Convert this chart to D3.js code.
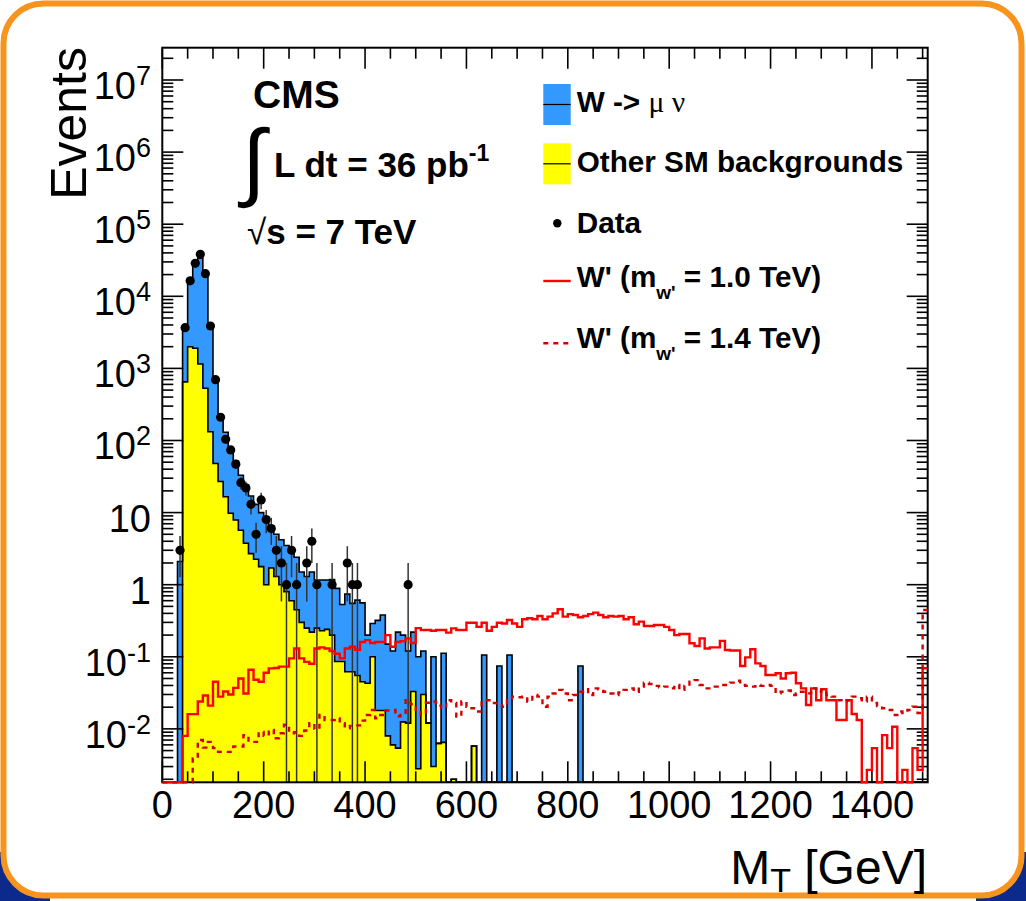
<!DOCTYPE html>
<html>
<head>
<meta charset="utf-8">
<script src="https://cdn.jsdelivr.net/npm/d3@7"></script>
<style>
  body { margin: 0; background: #fff; }
  svg { display: block; }
  text { font-family: "Liberation Sans", Arial, Helvetica, sans-serif; fill: #000; }
</style>
</head>
<body>
<svg id="chart" width="1026" height="901"></svg>
<script>
// ---- M_T spectrum, 10 GeV bins from 0 to 1510 GeV (bin i = [10i, 10i+10]) ----
const binWidth = 10;
const xMaxGeV = 1510;

// stacked SM total (W -> mu nu on top of other backgrounds), events per bin
const smTotal = [
  0, 0, 0, 2.1, 3600, 16000, 31000, 34000, 21000, 4000,
  700, 212, 130, 80, 52, 33, 24, 17, 13, 10,
  8, 6.5, 5, 4.2, 3.5, 3.0, 2.4, 1.5, 1.3, 1.5,
  1.16, 1.16, 1.16, 1.18, 0.89, 0.53, 0.74, 0.55, 0.61, 0.56,
  0.2, 0.29, 0.32, 0.38, 0.15, 0.12, 0.22, 0.2, 0.12, 0.22,
  0.1, 0.12, 0.012, 0.1, 0.0063, 0.112, 0, 0.002, 0, 0,
  0, 0.0058, 0, 0.106, 0, 0, 0.0745, 0, 0.106, 0,
  0, 0, 0, 0, 0, 0, 0, 0, 0, 0,
  0, 0, 0.0745, 0, 0, 0, 0, 0, 0, 0,
  0, 0, 0, 0, 0, 0, 0, 0, 0, 0,
  0, 0, 0, 0, 0, 0, 0, 0, 0, 0,
  0, 0, 0, 0, 0, 0, 0, 0, 0, 0,
  0, 0, 0, 0, 0, 0, 0, 0, 0, 0,
  0, 0, 0, 0, 0, 0, 0, 0, 0, 0,
  0, 0, 0, 0, 0, 0, 0, 0, 0, 0,
  0
];

// other SM backgrounds alone
const otherSM = [
  0, 0, 0, 0, 650, 2000, 1900, 1150, 530, 132,
  48, 27, 16.6, 9.8, 7.9, 5.7, 3.75, 2.7, 2.25, 1.78,
  1.0, 1.7, 1.3, 1.0, 0.8, 0.6, 0.45, 0.3, 0.25, 0.22,
  0.25, 0.23, 0.24, 0.2, 0.086, 0.086, 0.062, 0.062, 0.055, 0.045,
  0.043, 0.1, 0.018, 0.018, 0.008, 0.006, 0.0054, 0.0125, 0.012, 0.033,
  0.0028, 0.03, 0.012, 0.003, 0.0063, 0.0065, 0, 0.002, 0, 0,
  0, 0.0058, 0, 0, 0, 0, 0, 0, 0, 0,
  0, 0, 0, 0, 0, 0, 0, 0, 0, 0,
  0, 0, 0, 0, 0, 0, 0, 0, 0, 0,
  0, 0, 0, 0, 0, 0, 0, 0, 0, 0,
  0, 0, 0, 0, 0, 0, 0, 0, 0, 0,
  0, 0, 0, 0, 0, 0, 0, 0, 0, 0,
  0, 0, 0, 0, 0, 0, 0, 0, 0, 0,
  0, 0, 0, 0, 0, 0, 0, 0, 0, 0,
  0, 0, 0, 0, 0, 0, 0, 0, 0, 0,
  0
];

// observed events: bin index and count
const dataBins = [3, 4, 5, 6, 7, 8, 9, 10, 11, 12, 13, 14, 15, 16, 17, 18, 19, 20, 21, 22, 23, 24, 25, 26, 28, 29, 30, 33, 36, 37, 38, 48];
const dataCounts = [3, 3670, 16400, 28700, 38200, 20600, 3870, 697, 210, 104, 74, 47, 26, 22, 13, 5, 15, 8, 6, 3, 2, 1, 3, 1, 2, 4, 1, 1, 2, 1, 1, 1];

// W' signal, m = 1.0 TeV
const wprime10 = [
  0, 0, 0, 0, 0.008, 0.016, 0.016, 0.024, 0.029, 0.021,
  0.045, 0.028, 0.033, 0.03, 0.037, 0.05, 0.031, 0.066, 0.048, 0.045,
  0.06, 0.069, 0.07, 0.073, 0.073, 0.095, 0.13, 0.095, 0.085, 0.08,
  0.13, 0.135, 0.13, 0.12, 0.11, 0.095, 0.13, 0.138, 0.125, 0.16,
  0.17, 0.155, 0.16, 0.16, 0.2, 0.138, 0.16, 0.165, 0.18, 0.155,
  0.25, 0.235, 0.235, 0.23, 0.235, 0.235, 0.216, 0.248, 0.235, 0.235,
  0.297, 0.297, 0.26, 0.297, 0.23, 0.26, 0.297, 0.29, 0.324, 0.29,
  0.26, 0.331, 0.342, 0.331, 0.368, 0.331, 0.36, 0.40, 0.456, 0.36,
  0.39, 0.38, 0.353, 0.368, 0.39, 0.41, 0.38, 0.353, 0.368, 0.36,
  0.368, 0.331, 0.353, 0.282, 0.307, 0.267, 0.267, 0.276, 0.276, 0.26,
  0.235, 0.2, 0.207, 0.207, 0.154, 0.141, 0.18, 0.13, 0.135, 0.135,
  0.166, 0.124, 0.122, 0.122, 0.0745, 0.098, 0.127, 0.081, 0.0745, 0.056,
  0.056, 0.059, 0.05, 0.059, 0.06, 0.043, 0.0365, 0.0214, 0.0365, 0.025,
  0.0354, 0.025, 0.025, 0.0133, 0.0133, 0.025, 0.0161, 0.0133, 0, 0.0027,
  0.0054, 0, 0.0082, 0.0054, 0.0107, 0, 0.0027, 0, 0.0054, 0.0027,
  0.069
];

// W' signal, m = 1.4 TeV
const wprime14 = [
  0, 0, 0, 0, 0, 0, 0.0039, 0.007, 0.0055, 0.0066,
  0.0054, 0.0048, 0.0048, 0.0048, 0.0057, 0.0057, 0.0082, 0.0066, 0.0066, 0.0091,
  0.008, 0.0097, 0.0074, 0.0087, 0.0114, 0.0087, 0.009, 0.008, 0.0095, 0.012,
  0.01, 0.0156, 0.0133, 0.0133, 0.014, 0.012, 0.0102, 0.011, 0.0112, 0.013,
  0.0156, 0.0183, 0.014, 0.0156, 0.018, 0.0183, 0.015, 0.0156, 0.025, 0.022,
  0.017, 0.0156, 0.023, 0.024, 0.021, 0.0193, 0.025, 0.0228, 0.0148, 0.024,
  0.0203, 0.0193, 0.0174, 0.025, 0.025, 0.0228, 0.0226, 0.0203, 0.025, 0.028,
  0.0275, 0.028, 0.024, 0.0295, 0.028, 0.0203, 0.028, 0.031, 0.0347, 0.031,
  0.025, 0.0295, 0.0328, 0.0354, 0.0295, 0.0365, 0.0354, 0.0328, 0.031, 0.0295,
  0.032, 0.0347, 0.0365, 0.0328, 0.0385, 0.0438, 0.042, 0.0395, 0.0377, 0.0385,
  0.0365, 0.0406, 0.0347, 0.0395, 0.045, 0.0475, 0.0406, 0.0365, 0.0365, 0.0385,
  0.0406, 0.0406, 0.0438, 0.0465, 0.0406, 0.0395, 0.0385, 0.0406, 0.0395, 0.0406,
  0.0395, 0.0311, 0.0328, 0.034, 0.0295, 0.0311, 0.0328, 0.0311, 0.0365, 0.0328,
  0.0347, 0.0295, 0.028, 0.025, 0.024, 0.025, 0.028, 0.0266, 0.024, 0.028,
  0.0228, 0.0208, 0.0193, 0.0183, 0.0156, 0.0174, 0.0166, 0.0183, 0.0203, 0.0166,
  0.445
];

const xTickValues = [0, 200, 400, 600, 800, 1000, 1200, 1400];
const yDecades = [-2, -1, 0, 1, 2, 3, 4, 5, 6, 7];

// ---- layout ----
const svg = d3.select("#chart");
const frame = { left: 162.3, right: 927.7, top: 47.7, bottom: 782.3 };

const x = d3.scaleLinear().domain([0, xMaxGeV]).range([frame.left, frame.right]);
const y = d3.scaleLog()
  .domain([Math.pow(10, -2.741), Math.pow(10, 7.448)])
  .range([frame.bottom, frame.top]);
const yv = v => (v > y.domain()[0] ? y(v) : frame.bottom);

// slide background with rounded orange border
svg.append("rect").attr("x", 0).attr("y", 0).attr("width", 1026).attr("height", 901).attr("fill", "#fff");
svg.append("rect").attr("x", 0).attr("y", 852).attr("width", 50).attr("height", 49).attr("fill", "#0c2a8c");
svg.append("rect").attr("x", 976).attr("y", 852).attr("width", 50).attr("height", 49).attr("fill", "#0c2a8c");
svg.append("rect").attr("x", 3.5).attr("y", 3.5).attr("width", 1018).attr("height", 892)
  .attr("rx", 40).attr("ry", 40)
  .attr("fill", "#fff").attr("stroke", "#f7941d").attr("stroke-width", 6);

const defs = svg.append("defs");
defs.append("clipPath").attr("id", "plotclip")
  .append("rect").attr("x", frame.left).attr("y", frame.top)
  .attr("width", frame.right - frame.left).attr("height", frame.bottom - frame.top);
// signal curves may sit on the lower frame line, so their clip reaches a bit below it
defs.append("clipPath").attr("id", "sigclip")
  .append("rect").attr("x", frame.left).attr("y", frame.top)
  .attr("width", frame.right - frame.left).attr("height", frame.bottom - frame.top + 2);

const plot = svg.append("g").attr("clip-path", "url(#plotclip)");

const edges = vals => vals.map((v, i) => [i * binWidth, v]).concat([[xMaxGeV, vals[vals.length - 1]]]);

const histArea = d3.area()
  .x(d => x(d[0])).y0(frame.bottom).y1(d => yv(d[1]))
  .curve(d3.curveStepAfter);
const histLine = d3.line()
  .x(d => x(d[0])).y(d => yv(d[1]))
  .curve(d3.curveStepAfter);
const outlinePts = vals => [[0, 0]].concat(edges(vals));

// stacked backgrounds
plot.append("path").attr("d", histArea(edges(smTotal))).attr("fill", "#3399ff");
plot.append("path").attr("d", histArea(edges(otherSM))).attr("fill", "#ffff00");
plot.append("path").attr("d", histLine(outlinePts(smTotal)))
  .attr("fill", "none").attr("stroke", "#000").attr("stroke-width", 1.6);
plot.append("path").attr("d", histLine(outlinePts(otherSM)))
  .attr("fill", "none").attr("stroke", "#000").attr("stroke-width", 1.6);

// data with statistical error bars
const dataPts = dataBins.map((b, i) => ({ xc: b * binWidth + binWidth / 2, n: dataCounts[i] }));
plot.selectAll("line.err").data(dataPts).join("line").attr("class", "err")
  .attr("x1", d => x(d.xc)).attr("x2", d => x(d.xc))
  .attr("y1", d => yv(d.n + Math.sqrt(d.n)))
  .attr("y2", d => yv(d.n - Math.sqrt(d.n)))
  .attr("stroke", "#333").attr("stroke-width", 1.5);

// ---- frame and ticks ----
const axes = svg.append("g").attr("stroke", "#000").attr("stroke-width", 1.6);
const xMinor = d3.range(0, 1501, 50);
axes.selectAll("line.xb").data(xMinor).join("line")
  .attr("x1", d => x(d)).attr("x2", d => x(d))
  .attr("y1", frame.bottom).attr("y2", d => frame.bottom - (d % 200 === 0 ? 21 : 11));
axes.selectAll("line.xt").data(xMinor).join("line")
  .attr("x1", d => x(d)).attr("x2", d => x(d))
  .attr("y1", frame.top).attr("y2", d => frame.top + (d % 200 === 0 ? 21 : 11));

const yTicks = [];
for (let k = -3; k <= 7; k++) {
  for (let m = 1; m <= 9; m++) {
    const v = m * Math.pow(10, k);
    if (v >= y.domain()[0] && v <= y.domain()[1]) yTicks.push({ v, major: m === 1 });
  }
}
axes.selectAll("line.yl").data(yTicks).join("line")
  .attr("x1", frame.left).attr("x2", d => frame.left + (d.major ? 21 : 11))
  .attr("y1", d => y(d.v)).attr("y2", d => y(d.v));
axes.selectAll("line.yr").data(yTicks).join("line")
  .attr("x1", frame.right).attr("x2", d => frame.right - (d.major ? 21 : 11))
  .attr("y1", d => y(d.v)).attr("y2", d => y(d.v));

svg.append("rect").attr("x", frame.left).attr("y", frame.top)
  .attr("width", frame.right - frame.left).attr("height", frame.bottom - frame.top)
  .attr("fill", "none").attr("stroke", "#000").attr("stroke-width", 2);

// W' signals, drawn over the frame
const sig = svg.append("g").attr("clip-path", "url(#sigclip)");
sig.append("path").attr("d", histLine(edges(wprime10)))
  .attr("fill", "none").attr("stroke", "#ff0000").attr("stroke-width", 2.4);
sig.append("path").attr("d", histLine(edges(wprime14)))
  .attr("fill", "none").attr("stroke", "#d40000").attr("stroke-width", 2.4)
  .attr("stroke-dasharray", "5,5");

// data markers on top
svg.append("g").attr("clip-path", "url(#plotclip)")
  .selectAll("circle.pt").data(dataPts).join("circle").attr("class", "pt")
  .attr("cx", d => x(d.xc)).attr("cy", d => y(d.n)).attr("r", 4.6).attr("fill", "#000");

// tick labels
svg.selectAll("text.xl").data(xTickValues).join("text").attr("class", "xl")
  .attr("x", d => x(d)).attr("y", 818).attr("text-anchor", "middle")
  .attr("font-size", 38).text(d => d);

const yl = svg.selectAll("text.yl").data(yDecades).join("text").attr("class", "yl")
  .attr("x", 151).attr("y", d => y(Math.pow(10, d)) + 19)
  .attr("text-anchor", "end").attr("font-size", 38);
yl.each(function (d) {
  const t = d3.select(this);
  if (d === 0) { t.text("1"); return; }
  if (d === 1) { t.text("10"); return; }
  t.append("tspan").text("10");
  t.append("tspan").attr("dy", -14).attr("font-size", 27).text(d);
});

// axis titles
svg.append("text").attr("transform", "translate(86,47) rotate(-90)")
  .attr("text-anchor", "end").attr("font-size", 50).text("Events");
const xt = svg.append("text").attr("x", 927).attr("y", 884)
  .attr("text-anchor", "end").attr("font-size", 48);
xt.append("tspan").text("M");
xt.append("tspan").attr("dy", 8).attr("font-size", 34).text("T");
xt.append("tspan").attr("dy", -8).text(" [GeV]");

// ---- annotations ----
svg.append("text").attr("x", 253).attr("y", 108).attr("font-size", 39)
  .attr("font-weight", "bold").text("CMS");
svg.append("text").attr("x", 242).attr("y", 190).attr("font-size", 86)
  .attr("font-family", "Liberation Serif").text("\u222B");
const lumi = svg.append("text").attr("x", 274).attr("y", 177).attr("font-size", 35).attr("font-weight", "bold");
lumi.append("tspan").text("L dt = 36 pb");
lumi.append("tspan").attr("dy", -16).attr("font-size", 23).text("-1");
const rs = svg.append("text").attr("x", 247).attr("y", 244).attr("font-size", 35).attr("font-weight", "bold");
rs.append("tspan").attr("font-weight", "normal").text("\u221A");
rs.append("tspan").text("s = 7 TeV");

// ---- legend ----
const lg = svg.append("g");
const boxX = 543.3, boxW = 27.4;
lg.append("rect").attr("x", boxX).attr("y", 84).attr("width", boxW).attr("height", 41).attr("fill", "#3399ff");
lg.append("line").attr("x1", boxX).attr("x2", boxX + boxW).attr("y1", 104.5).attr("y2", 104.5).attr("stroke", "#000").attr("stroke-width", 1.2);
lg.append("rect").attr("x", boxX).attr("y", 143.3).attr("width", boxW).attr("height", 41).attr("fill", "#ffff00");
lg.append("line").attr("x1", boxX).attr("x2", boxX + boxW).attr("y1", 163.8).attr("y2", 163.8).attr("stroke", "#000").attr("stroke-width", 1.2);
lg.append("circle").attr("cx", 557.3).attr("cy", 223.3).attr("r", 4.2).attr("fill", "#000");
lg.append("line").attr("x1", boxX).attr("x2", boxX + boxW).attr("y1", 281).attr("y2", 281).attr("stroke", "#ff0000").attr("stroke-width", 2.4);
lg.append("line").attr("x1", boxX).attr("x2", boxX + boxW).attr("y1", 343.3).attr("y2", 343.3).attr("stroke", "#d40000").attr("stroke-width", 2.4).attr("stroke-dasharray", "5,5");

const legendText = (yb) => lg.append("text").attr("x", 576.7).attr("y", yb).attr("font-size", 29.7).attr("font-weight", "bold");
const t1 = legendText(111.7);
t1.append("tspan").text("W -> ");
t1.append("tspan").attr("font-family", "Liberation Serif").attr("font-weight", "normal").text("\u03BC \u03BD");
legendText(171.7).text("Other SM backgrounds");
legendText(233.3).text("Data");
[[286.7, "1.0"], [348.3, "1.4"]].forEach(([yb, m]) => {
  const t = legendText(yb);
  t.append("tspan").text("W' (m");
  t.append("tspan").attr("dy", 12).attr("font-size", 19).text("w'");
  t.append("tspan").attr("dy", -12).text(" = " + m + " TeV)");
});
</script>
</body>
</html>
